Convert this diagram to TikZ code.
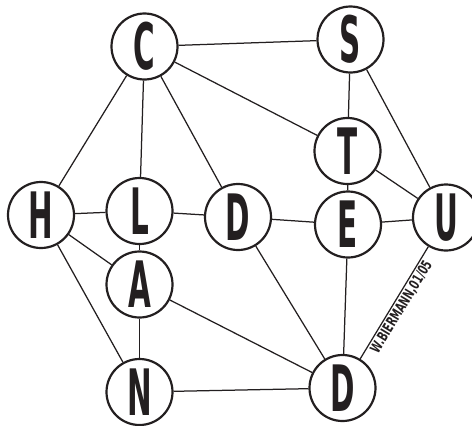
\documentclass[tikz,border=0pt]{standalone}
\usepackage{fontspec}
\newfontfamily\letterfont{DejaVu Sans}
\definecolor{ink}{HTML}{231F20}
\tikzset{
  letter/.style={circle, draw=ink, line width=2.2pt, fill=white, minimum size=66pt, inner sep=0pt, text=ink,
    font=\letterfont\bfseries\fontsize{64}{64}\selectfont},
  edge/.style={draw=ink, line width=1.25pt},
  sig/.style={font=\letterfont\bfseries\fontsize{14.5}{14.5}\selectfont, text=ink, inner sep=1.5pt}
}
\newcommand{\ltr}[1]{\scalebox{0.46}[1]{#1}}
\begin{document}
\begin{tikzpicture}[x=1pt,y=-1pt]
\useasboundingbox (0,0) rectangle (472,426);
\node[letter] (C) at (144.5,46.5) {\ltr{C}};
\node[letter] (S) at (350.5,39.5) {\ltr{S}};
\node[letter] (T) at (347.5,151) {\ltr{T}};
\node[letter] (H) at (41,215) {\ltr{H}};
\node[letter] (L) at (139.5,211) {\ltr{L}};
\node[letter] (D) at (238,217) {\ltr{D}};
\node[letter] (E) at (348,224.5) {\ltr{E}};
\node[letter] (U) at (446,217.5) {\ltr{U}};
\node[letter] (A) at (139.5,284.5) {\ltr{A}};
\node[letter] (N) at (139.5,392) {\ltr{N}};
\node[letter] (B) at (342.5,388) {\ltr{D}};
\draw[edge] (C) -- (S);
\draw[edge] (C) -- (H);
\draw[edge] (C) -- (L);
\draw[edge] (C) -- (D);
\draw[edge] (C) -- (T);
\draw[edge] (S) -- (T);
\draw[edge] (S) -- (U);
\draw[edge] (T) -- (E);
\draw[edge] (T) -- (U);
\draw[edge] (H) -- (L);
\draw[edge] (L) -- (D);
\draw[edge] (D) -- (E);
\draw[edge] (E) -- (U);
\draw[edge] (H) -- (A);
\draw[edge] (H) -- (N);
\draw[edge] (L) -- (A);
\draw[edge] (A) -- (N);
\draw[edge] (A) -- (B);
\draw[edge] (D) -- (B);
\draw[edge] (E) -- (B);
\draw[edge] (N) -- (B);
\draw[edge] (B) -- node[sig, midway, sloped, below] (signature) {\scalebox{0.66}[1]{W.BIERMANN,01/05}} (U);
\end{tikzpicture}
\end{document}
